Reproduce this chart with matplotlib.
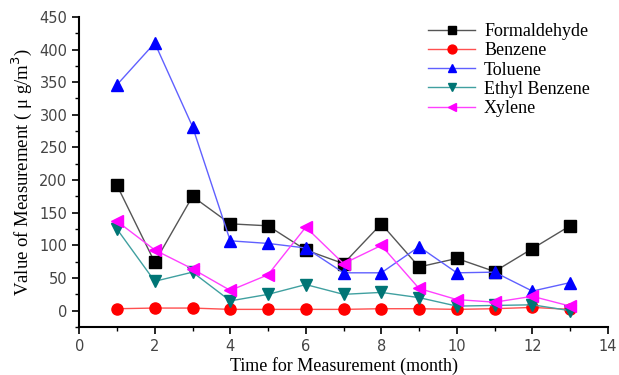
import matplotlib
matplotlib.use("Agg")
import matplotlib.pyplot as plt
from matplotlib.ticker import MultipleLocator

months = [1, 2, 3, 4, 5, 6, 7, 8, 9, 10, 11, 12, 13]
formaldehyde = [192, 74, 175, 133, 130, 93, 72, 133, 67, 80, 60, 95, 130]
benzene = [3, 4, 4, 2, 2, 2, 2, 3, 3, 2, 3, 5, 2]
toluene = [346, 410, 282, 107, 103, 96, 58, 58, 98, 58, 59, 30, 43]
ethyl_benzene = [125, 45, 59, 15, 25, 40, 25, 28, 20, 7, 8, 9, 0]
xylene = [137, 93, 64, 31, 55, 128, 72, 100, 34, 17, 13, 22, 7]

series = [
    ("Formaldehyde", formaldehyde, "#555555", "black", "s"),
    ("Benzene", benzene, "#ff5050", "red", "o"),
    ("Toluene", toluene, "#6060ff", "blue", "^"),
    ("Ethyl Benzene", ethyl_benzene, "#40a0a0", "#007575", "v"),
    ("Xylene", xylene, "#ff40ff", "magenta", "<"),
]

fig = plt.figure(figsize=(6.19, 3.75), dpi=100)
ax = fig.add_axes([0.128, 0.128, 0.854, 0.827])

for name, vals, lc, mc, mk in series:
    ax.plot(months, vals, color=lc, linewidth=1, marker=mk, markersize=8,
            markerfacecolor=mc, markeredgecolor=mc, label=name)

ax.set_xlim(0, 14)
ax.set_ylim(-25, 450)
ax.xaxis.set_major_locator(MultipleLocator(2))
ax.xaxis.set_minor_locator(MultipleLocator(1))
ax.yaxis.set_major_locator(MultipleLocator(50))
ax.yaxis.set_minor_locator(MultipleLocator(25))
for s in ("top", "right"):
    ax.spines[s].set_visible(False)
for s in ("left", "bottom"):
    ax.spines[s].set_linewidth(1.5)
ax.tick_params(which="major", length=5, width=1.2, labelsize=10.5, labelcolor="#444444")
ax.tick_params(which="minor", length=3, width=1)

serif = ["Liberation Serif", "DejaVu Serif"]
ax.set_xlabel("Time for Measurement (month)", family=serif, fontsize=13, labelpad=2)
ax.set_ylabel("Value of Measurement ( \u03bc g/m$^3$)", family=serif, fontsize=13.5)

ax.legend(loc="upper right", bbox_to_anchor=(0.99, 1.02), frameon=False,
          prop={"family": serif, "size": 13}, handlelength=2.6, markerscale=0.8,
          labelspacing=0.12, handletextpad=0.5, borderaxespad=0.3)

fig.savefig("out.png", dpi=100)
